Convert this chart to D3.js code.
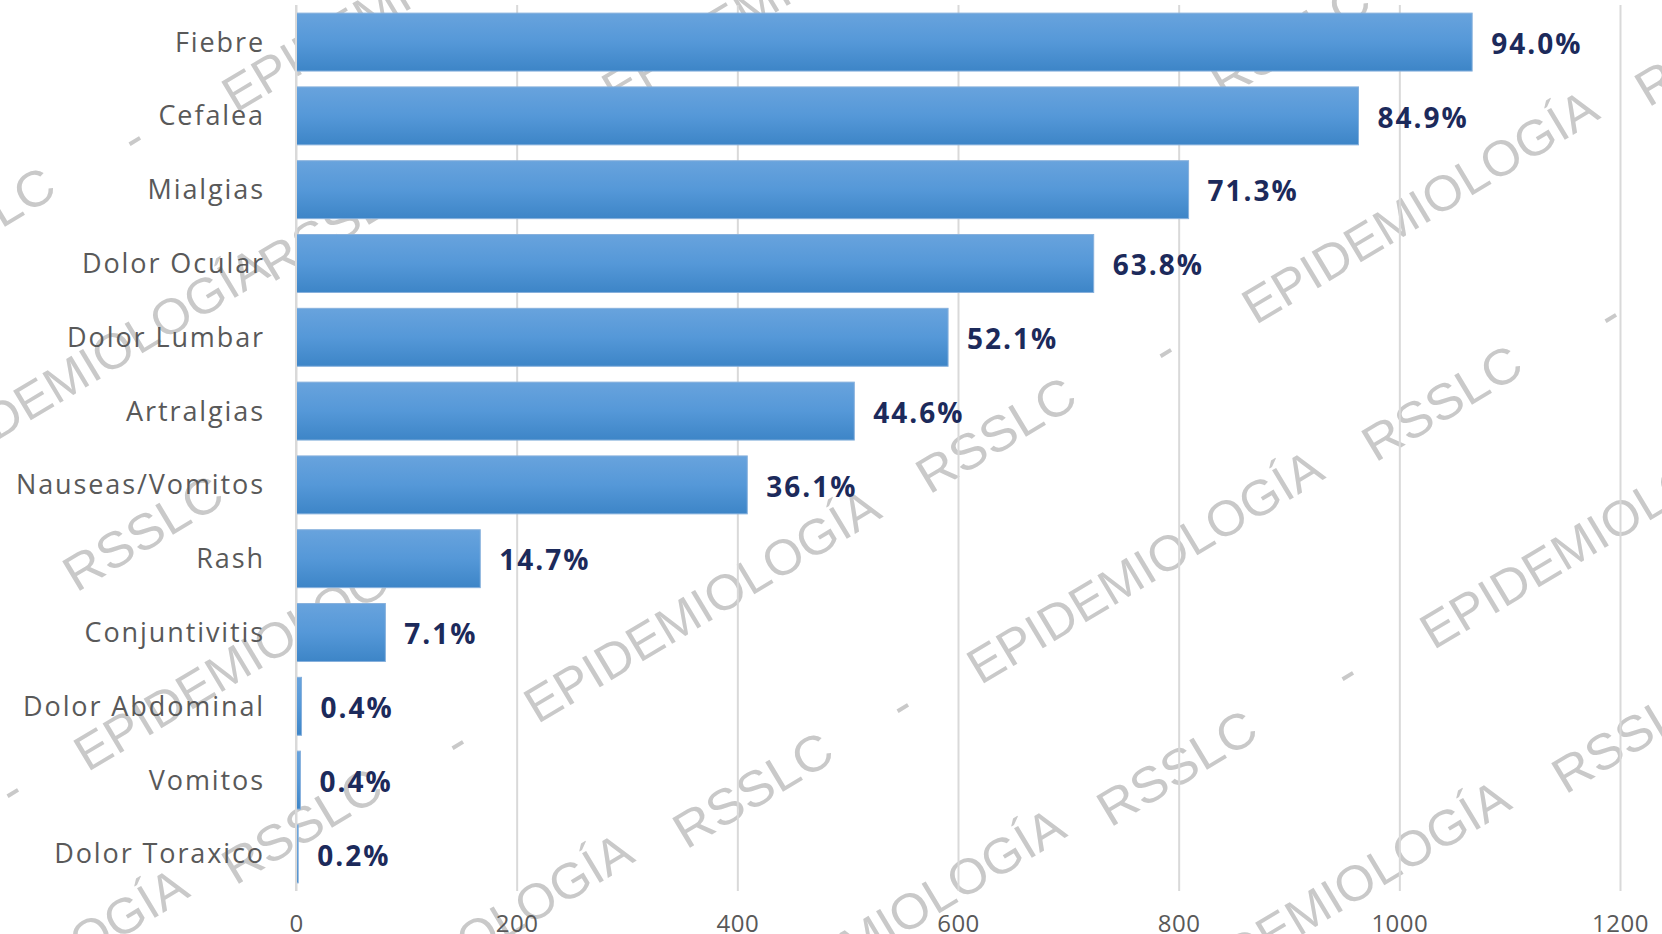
<!DOCTYPE html>
<html>
<head>
<meta charset="utf-8">
<script src="https://cdn.jsdelivr.net/npm/d3@7"></script>
<style>
  body { margin: 0; background: #fff; }
  svg { display: block; }
</style>
</head>
<body>
<svg id="chart"></svg>
<script>
// categories, top to bottom
var categories = ["Fiebre", "Cefalea", "Mialgias", "Dolor Ocular", "Dolor Lumbar", "Artralgias",
  "Nauseas/Vomitos", "Rash", "Conjuntivitis", "Dolor Abdominal", "Vomitos", "Dolor Toraxico"];
// number of cases
var cases = [1066, 963, 809, 723, 591, 506, 409, 167, 81, 5, 4, 2];
// labels printed at bar ends
var percentLabels = ["94.0%", "84.9%", "71.3%", "63.8%", "52.1%", "44.6%",
  "36.1%", "14.7%", "7.1%", "0.4%", "0.4%", "0.2%"];
var xTicks = [0, 200, 400, 600, 800, 1000, 1200];

var W = 1662, H = 934;
var margin = {top: 5, right: 42, bottom: 43, left: 296},
    width = W - margin.left - margin.right,
    height = H - margin.top - margin.bottom;

var svg = d3.select("#chart").attr("width", W).attr("height", H);

// watermark (drawn under the chart)
var wm = [
  ["EPIDEMIOLOGÍA", 702, 606], ["EPIDEMIOLOGÍA", 1420, 207], ["EPIDEMIOLOGÍA", 1145, 567],
  ["EPIDEMIOLOGÍA", 887, 925], ["EPIDEMIOLOGÍA", 1332, 897], ["EPIDEMIOLOGÍA", 1598, 532],
  ["EPIDEMIOLOGÍA", 90, 365], ["EPIDEMIOLOGÍA", 252, 654], ["EPIDEMIOLOGÍA", 455, 950],
  ["EPIDEMIOLOGÍA", 10, 985], ["EPIDEMIOLOGÍA", 400, -5], ["EPIDEMIOLOGÍA", 780, -10],
  ["RSSLC", 996, 435], ["RSSLC", 1442, 403], ["RSSLC", 753, 790], ["RSSLC", 1177, 768],
  ["RSSLC", 1632, 735], ["RSSLC", 143, 533], ["RSSLC", 302, 826], ["RSSLC", -25, 225],
  ["RSSLC", 339, 223], ["RSSLC", 1715, 48], ["RSSLC", 1290, 40],
  ["-", 456, 742], ["-", 901, 705], ["-", 1346, 673], ["-", 1164, 350], ["-", 1609, 315],
  ["-", 133, 138], ["-", 11, 790]
];
svg.append("g").selectAll("text")
  .data(wm)
  .enter().append("text")
  .attr("transform", function(d) { return "translate(" + d[1] + "," + d[2] + ") rotate(-31)"; })
  .attr("text-anchor", "middle")
  .attr("dominant-baseline", "central")
  .attr("textLength", function(d) { return d[0] === "EPIDEMIOLOGÍA" ? 404 : d[0] === "RSSLC" ? 176 : null; })
  .attr("lengthAdjust", "spacingAndGlyphs")
  .style("font-family", "'Liberation Sans', Arial, sans-serif")
  .style("font-size", "50px")
  .style("fill", "#c9c9c9")
  .text(function(d) { return d[0]; });

var defs = svg.append("defs");
var grad = defs.append("linearGradient").attr("id", "barGrad")
  .attr("x1", 0).attr("y1", 0).attr("x2", 0).attr("y2", 1);
grad.append("stop").attr("offset", "0%").attr("stop-color", "#68a3dd");
grad.append("stop").attr("offset", "50%").attr("stop-color", "#5598d8");
grad.append("stop").attr("offset", "100%").attr("stop-color", "#3d85c7");

var g = svg.append("g")
  .attr("transform", "translate(" + margin.left + "," + margin.top + ")");

var x = d3.scaleLinear().domain([0, 1200]).range([0, width]);
var y = d3.scaleBand().domain(categories).range([0, height]).paddingInner(0.215).paddingOuter(0.11);

// gridlines + ticks
var xAxis = g.append("g")
  .attr("transform", "translate(0," + height + ")")
  .call(d3.axisBottom(x).tickValues(xTicks).tickSize(-height).tickPadding(24).tickFormat(d3.format("d")));
xAxis.select(".domain").remove();
xAxis.selectAll(".tick line").attr("stroke", "#d9d9d9").attr("stroke-width", 2);
xAxis.selectAll(".tick text")
  .style("font-family", "'Open Sans', sans-serif")
  .style("font-size", "24px")
  .style("letter-spacing", "0.5px")
  .style("fill", "#595959");

// bars
g.selectAll(".bar")
  .data(cases)
  .enter().append("rect")
  .attr("class", "bar")
  .attr("x", 0)
  .attr("y", function(d, i) { return y(categories[i]); })
  .attr("width", function(d) { return x(d); })
  .attr("height", y.bandwidth())
  .attr("fill", "url(#barGrad)")
  .attr("stroke", "#86b0dc")
  .attr("stroke-width", 1);

// vertical axis line
g.append("line")
  .attr("x1", 0).attr("x2", 0).attr("y1", 0).attr("y2", height)
  .attr("stroke", "#d9d9d9").attr("stroke-width", 2);

// category labels
g.selectAll(".cat")
  .data(categories)
  .enter().append("text")
  .attr("class", "cat")
  .attr("x", -31)
  .attr("y", function(d) { return y(d) + y.bandwidth() / 2; })
  .attr("dy", "0.35em")
  .attr("text-anchor", "end")
  .style("font-family", "'Open Sans', sans-serif")
  .style("font-size", "27px")
  .style("letter-spacing", "1.9px")
  .style("fill", "#595959")
  .text(function(d) { return d; });

// value labels
g.selectAll(".val")
  .data(cases)
  .enter().append("text")
  .attr("class", "val")
  .attr("x", function(d) { return x(d) + 19; })
  .attr("y", function(d, i) { return y(categories[i]) + y.bandwidth() / 2; })
  .attr("dy", "0.42em")
  .style("font-family", "'Open Sans', sans-serif")
  .style("font-weight", "bold")
  .style("font-size", "28px")
  .style("letter-spacing", "2px")
  .style("fill", "#1c2a5b")
  .text(function(d, i) { return percentLabels[i]; });
</script>
</body>
</html>
